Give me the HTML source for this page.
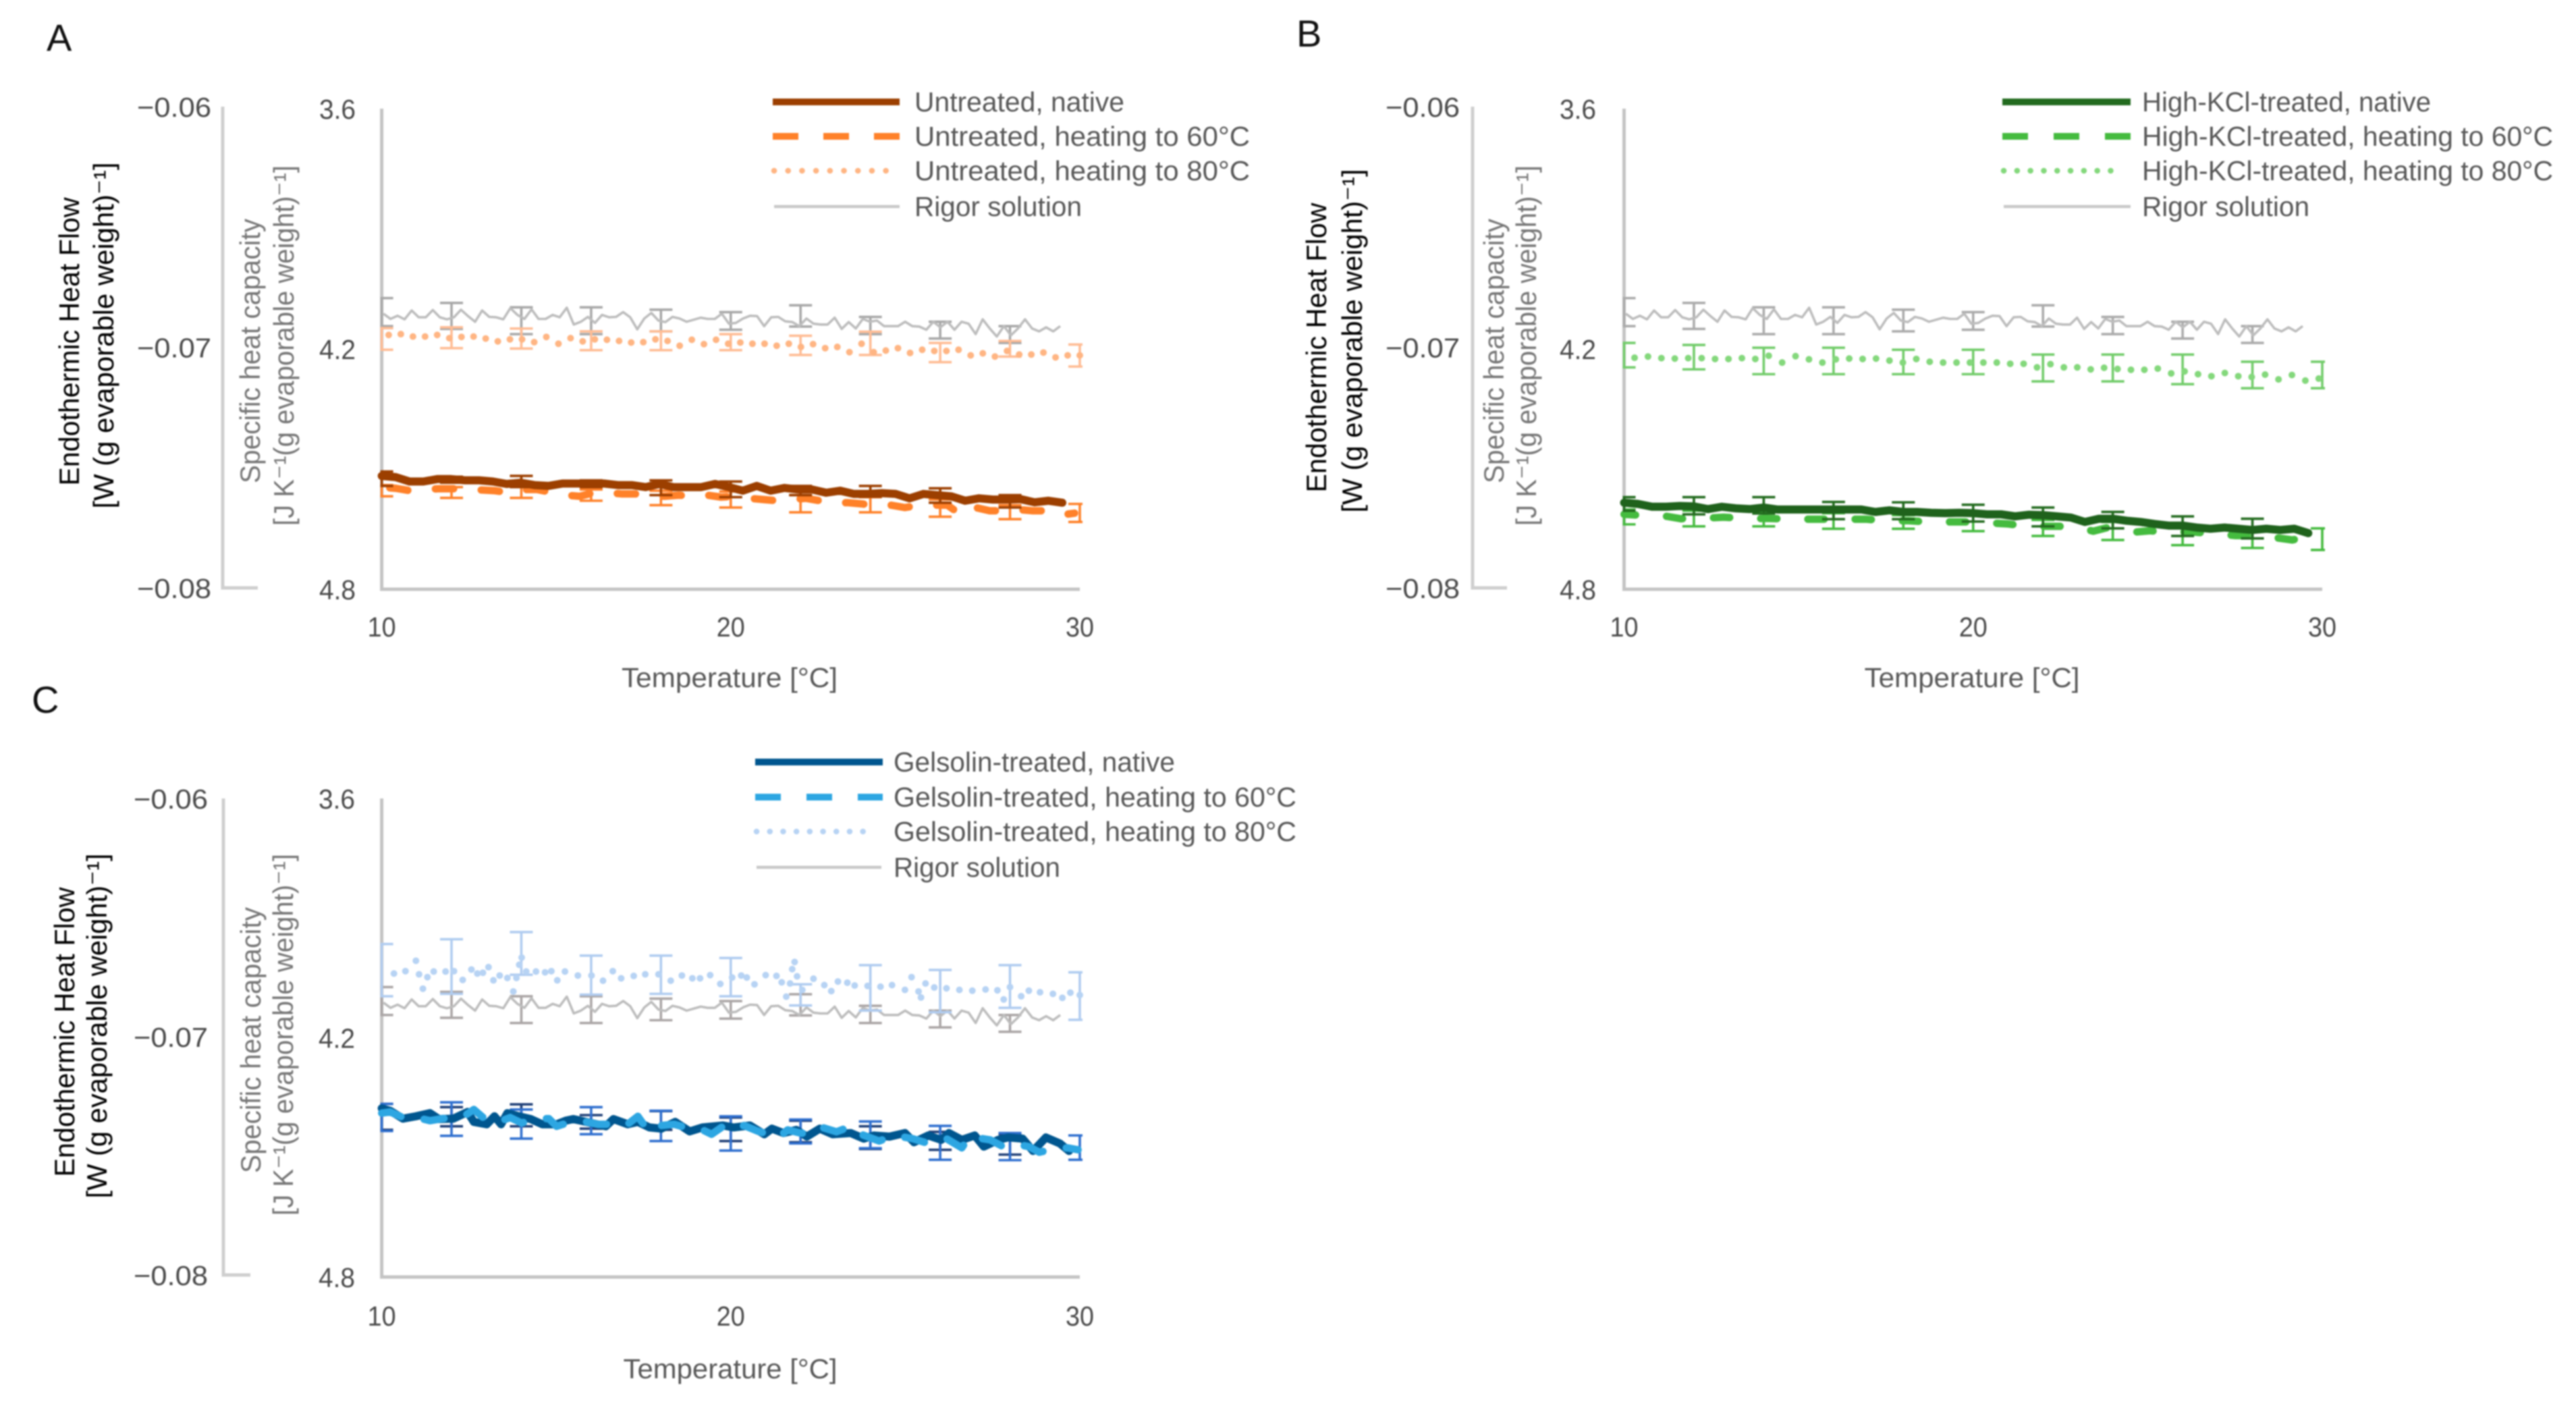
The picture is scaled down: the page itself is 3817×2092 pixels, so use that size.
<!DOCTYPE html>
<html lang="en">
<head>
<meta charset="utf-8">
<title>Endothermic heat flow and specific heat capacity</title>
<style>
html,body{margin:0;padding:0;background:#fff;width:3817px;height:2092px;overflow:hidden}
svg{display:block;filter:blur(1.1px)}
text{font-family:"Liberation Sans","DejaVu Sans",sans-serif}
.tick{font-size:41px;fill:#4a4a4a}
.leg{font-size:41px;fill:#585858}
.xt{font-size:41px;fill:#585858;text-anchor:middle}
.yd{font-size:42px;fill:#000;text-anchor:middle}
.yg{font-size:42px;fill:#777;text-anchor:middle}
.pl{font-size:56px;fill:#111}
</style>
</head>
<body>
<svg id="chart" xmlns="http://www.w3.org/2000/svg" width="3817" height="2092" viewBox="0 0 3817 2092">
<rect x="0" y="0" width="3817" height="2092" fill="#fff"/>

<g id="panel-a">
<text class="pl" x="69" y="75">A</text>
<text class="yd" transform="translate(117 506) rotate(-90)" textLength="427" lengthAdjust="spacingAndGlyphs">Endothermic Heat Flow</text>
<text class="yd" transform="translate(168 497) rotate(-90)" textLength="513" lengthAdjust="spacingAndGlyphs">[W (g evaporable weight)⁻¹]</text>
<text class="yg" transform="translate(385 520) rotate(-90)" textLength="392" lengthAdjust="spacingAndGlyphs">Specific heat capacity</text>
<text class="yg" transform="translate(435 512) rotate(-90)" textLength="534" lengthAdjust="spacingAndGlyphs">[J K⁻¹(g evaporable weight)⁻¹]</text>
<text class="xt" x="1081" y="1018" textLength="320" lengthAdjust="spacingAndGlyphs">Temperature [°C]</text>
<g>
<line x1="1145" y1="151" x2="1333" y2="151" stroke="#9C3F00" stroke-width="10"/>
<text class="leg" x="1355" y="165" textLength="311" lengthAdjust="spacingAndGlyphs">Untreated, native</text>
<line x1="1145" y1="202" x2="1333" y2="202" stroke="#FF8129" stroke-width="10" stroke-dasharray="38 37"/>
<text class="leg" x="1355" y="216" textLength="497" lengthAdjust="spacingAndGlyphs">Untreated, heating to 60°C</text>
<line x1="1147" y1="253" x2="1333" y2="253" stroke="#FFB583" stroke-width="8.5" stroke-linecap="round" stroke-dasharray="0.1 20.6"/>
<text class="leg" x="1355" y="267" textLength="497" lengthAdjust="spacingAndGlyphs">Untreated, heating to 80°C</text>
<line x1="1147" y1="306" x2="1333" y2="306" stroke="#C8C8C8" stroke-width="4.5"/>
<text class="leg" x="1355" y="320" textLength="248" lengthAdjust="spacingAndGlyphs">Rigor solution</text>
</g>
</g>

<g id="panel-b">
<text class="pl" x="1921" y="69">B</text>
<text class="yd" transform="translate(1965 515) rotate(-90)" textLength="429" lengthAdjust="spacingAndGlyphs">Endothermic Heat Flow</text>
<text class="yd" transform="translate(2018 505) rotate(-90)" textLength="509" lengthAdjust="spacingAndGlyphs">[W (g evaporable weight)⁻¹]</text>
<text class="yg" transform="translate(2228 520) rotate(-90)" textLength="392" lengthAdjust="spacingAndGlyphs">Specific heat capacity</text>
<text class="yg" transform="translate(2276 512) rotate(-90)" textLength="534" lengthAdjust="spacingAndGlyphs">[J K⁻¹(g evaporable weight)⁻¹]</text>
<text class="xt" x="2922" y="1018" textLength="319" lengthAdjust="spacingAndGlyphs">Temperature [°C]</text>
<g>
<line x1="2967" y1="151" x2="3157" y2="151" stroke="#236B1F" stroke-width="10"/>
<text class="leg" x="3174" y="165" textLength="428" lengthAdjust="spacingAndGlyphs">High-KCl-treated, native</text>
<line x1="2967" y1="202" x2="3157" y2="202" stroke="#45BB3F" stroke-width="10" stroke-dasharray="38 38"/>
<text class="leg" x="3174" y="216" textLength="609" lengthAdjust="spacingAndGlyphs">High-KCl-treated, heating to 60°C</text>
<line x1="2969" y1="253" x2="3147" y2="253" stroke="#84D87C" stroke-width="8.5" stroke-linecap="round" stroke-dasharray="0.1 19.7"/>
<text class="leg" x="3174" y="267" textLength="609" lengthAdjust="spacingAndGlyphs">High-KCl-treated, heating to 80°C</text>
<line x1="2969" y1="306" x2="3157" y2="306" stroke="#C8C8C8" stroke-width="4.5"/>
<text class="leg" x="3174" y="320" textLength="248" lengthAdjust="spacingAndGlyphs">Rigor solution</text>
</g>
</g>

<g id="panel-c">
<text class="pl" x="47" y="1056">C</text>
<text class="yd" transform="translate(110 1529) rotate(-90)" textLength="429" lengthAdjust="spacingAndGlyphs">Endothermic Heat Flow</text>
<text class="yd" transform="translate(158 1520) rotate(-90)" textLength="511" lengthAdjust="spacingAndGlyphs">[W (g evaporable weight)⁻¹]</text>
<text class="yg" transform="translate(386 1541) rotate(-90)" textLength="394" lengthAdjust="spacingAndGlyphs">Specific heat capacity</text>
<text class="yg" transform="translate(434 1533) rotate(-90)" textLength="536" lengthAdjust="spacingAndGlyphs">[J K⁻¹(g evaporable weight)⁻¹]</text>
<text class="xt" x="1082" y="2042" textLength="317" lengthAdjust="spacingAndGlyphs">Temperature [°C]</text>
<g>
<line x1="1119" y1="1129" x2="1308" y2="1129" stroke="#00568F" stroke-width="10"/>
<text class="leg" x="1324" y="1143" textLength="417" lengthAdjust="spacingAndGlyphs">Gelsolin-treated, native</text>
<line x1="1119" y1="1181" x2="1308" y2="1181" stroke="#2DA6E2" stroke-width="10" stroke-dasharray="38 38"/>
<text class="leg" x="1324" y="1195" textLength="597" lengthAdjust="spacingAndGlyphs">Gelsolin-treated, heating to 60°C</text>
<line x1="1121" y1="1232" x2="1298" y2="1232" stroke="#B7D3F4" stroke-width="8.5" stroke-linecap="round" stroke-dasharray="0.1 19.6"/>
<text class="leg" x="1324" y="1246" textLength="597" lengthAdjust="spacingAndGlyphs">Gelsolin-treated, heating to 80°C</text>
<line x1="1121" y1="1285" x2="1306" y2="1285" stroke="#C8C8C8" stroke-width="4.5"/>
<text class="leg" x="1324" y="1299" textLength="247" lengthAdjust="spacingAndGlyphs">Rigor solution</text>
</g>
</g>
</svg>

<script>
/* ---------- tick labels ---------- */
const temperatureTicks = [10, 20, 30];
const capacityTicks = [3.6, 4.2, 4.8];
const heatFlowTicks = [-0.06, -0.07, -0.08];
const errorBarTemps = [10, 12, 14, 16, 18, 20, 22, 24, 26, 28, 30];

/* ---------- rigor solution (same in all panels) ---------- */
const rigorValues = [4.112,4.125,4.117,4.126,4.104,4.121,4.121,4.103,4.121,4.126,4.121,4.102,4.118,4.132,4.104,4.120,4.121,4.126,4.098,4.115,4.125,4.101,4.125,4.125,4.115,4.121,4.097,4.139,4.132,4.120,4.135,4.115,4.121,4.120,4.108,4.121,4.151,4.124,4.110,4.129,4.133,4.120,4.124,4.132,4.127,4.122,4.125,4.125,4.112,4.137,4.135,4.124,4.117,4.118,4.143,4.121,4.120,4.131,4.133,4.143,4.124,4.137,4.139,4.139,4.122,4.150,4.133,4.149,4.125,4.132,4.129,4.143,4.143,4.143,4.132,4.143,4.144,4.152,4.132,4.146,4.132,4.152,4.132,4.137,4.163,4.126,4.149,4.169,4.143,4.166,4.149,4.126,4.149,4.156,4.146,4.156,4.143];
const rigorLow = [4.073,4.085,4.096,4.096,4.102,4.108,4.091,4.120,4.132,4.143,null];
const rigorHigh = [4.143,4.150,4.163,4.163,4.156,4.152,4.144,4.163,4.174,4.185,null];

/* ---------- panel A: untreated ---------- */
const untreatedNative = [4.517,4.520,4.531,4.531,4.525,4.525,4.528,4.528,4.531,4.537,4.534,4.540,4.542,4.536,4.536,4.536,4.536,4.540,4.540,4.545,4.537,4.545,4.545,4.545,4.537,4.545,4.554,4.542,4.554,4.547,4.551,4.551,4.559,4.554,4.562,4.562,4.560,4.562,4.573,4.562,4.565,4.568,4.579,4.573,4.576,4.576,4.575,4.583,4.579,4.584];
const untreatedNativeLow = [4.506,4.519,4.517,4.528,4.528,4.531,4.542,4.542,4.548,4.565,null];
const untreatedNativeHigh = [4.542,4.534,4.545,4.545,4.565,4.570,4.565,4.569,4.584,4.596,null];
const untreated60 = [4.545,4.548,4.554,4.551,4.549,4.549,4.549,4.552,4.554,4.559,4.551,4.551,4.558,4.565,4.568,4.559,4.559,4.562,4.562,4.565,4.568,4.565,4.568,4.565,4.570,4.568,4.573,4.576,4.579,4.576,4.573,4.579,4.584,4.584,4.587,4.593,4.590,4.596,4.590,4.590,4.590,4.615,4.596,4.604,4.604,4.601,4.604,4.604,4.615,4.610];
const untreated60Low = [4.540,4.545,4.545,4.551,4.554,4.556,4.565,4.570,4.576,4.590,4.587];
const untreated60High = [4.568,4.572,4.572,4.579,4.590,4.596,4.608,4.608,4.619,4.625,4.632];
const untreated80 = [4.165,4.163,4.169,4.169,4.165,4.173,4.170,4.169,4.174,4.181,4.176,4.176,4.183,4.170,4.187,4.173,4.181,4.176,4.177,4.180,4.184,4.183,4.176,4.180,4.192,4.177,4.188,4.177,4.187,4.184,4.187,4.187,4.192,4.187,4.195,4.188,4.198,4.195,4.208,4.187,4.208,4.204,4.198,4.210,4.202,4.205,4.205,4.202,4.216,4.211,4.219,4.205,4.214,4.214,4.209,4.221,4.216,4.216];
const untreated80Low = [4.148,4.146,4.149,4.156,4.156,4.163,4.167,4.157,4.185,4.180,4.189];
const untreated80High = [4.202,4.198,4.199,4.203,4.203,4.203,4.215,4.215,4.233,4.219,4.244];

/* ---------- panel B: high-KCl ---------- */
const kclNative = [4.584,4.587,4.594,4.594,4.592,4.593,4.600,4.594,4.598,4.600,4.596,4.601,4.601,4.601,4.601,4.601,4.601,4.601,4.607,4.603,4.607,4.607,4.609,4.610,4.609,4.610,4.613,4.613,4.618,4.614,4.615,4.618,4.621,4.632,4.624,4.624,4.629,4.632,4.637,4.641,4.641,4.646,4.649,4.646,4.649,4.652,4.649,4.652,4.649,4.660];
const kclNativeLow = [4.570,4.570,4.570,4.582,4.583,4.589,4.596,4.607,4.618,4.624,null];
const kclNativeHigh = [4.604,4.613,4.611,4.625,4.625,4.631,4.643,4.648,4.667,4.673,null];
const kcl60 = [4.613,4.615,4.618,4.618,4.624,4.621,4.622,4.620,4.622,4.624,4.623,4.624,4.625,4.625,4.625,4.625,4.625,4.625,4.628,4.629,4.629,4.631,4.632,4.632,4.632,4.633,4.635,4.637,4.641,4.643,4.643,4.643,4.646,4.655,4.646,4.655,4.657,4.654,4.657,4.657,4.657,4.660,4.663,4.666,4.666,4.669,4.672,4.677,4.669];
const kcl60Low = [4.601,4.604,4.607,4.610,4.615,4.615,4.627,4.632,4.643,4.652,4.648];
const kcl60High = [4.638,4.643,4.643,4.649,4.649,4.655,4.667,4.677,4.690,4.697,4.702];
const kcl80 = [4.222,4.219,4.223,4.224,4.223,4.223,4.225,4.225,4.223,4.225,4.217,4.234,4.218,4.226,4.234,4.226,4.224,4.225,4.224,4.229,4.234,4.225,4.232,4.234,4.234,4.234,4.234,4.234,4.237,4.237,4.246,4.238,4.246,4.246,4.251,4.247,4.250,4.252,4.252,4.249,4.261,4.256,4.263,4.268,4.260,4.268,4.270,4.264,4.276,4.265,4.279,4.274];
const kcl80Low = [4.185,4.190,4.197,4.197,4.202,4.202,4.214,4.214,4.214,4.232,4.232];
const kcl80High = [4.246,4.251,4.263,4.263,4.263,4.263,4.281,4.281,4.288,4.298,4.298];

/* ---------- panel C: gelsolin ---------- */
const gelsolinNativeTemps = [10.0,10.24,10.61,10.98,11.38,11.64,12.05,12.46,12.64,13.01,13.23,13.42,13.60,13.94,14.27,14.60,15.01,15.27,15.49,15.86,16.42,16.64,17.05,17.34,17.67,18.01,18.41,18.82,19.19,19.78,20.08,20.55,20.96,21.18,21.51,21.88,22.18,22.55,22.92,23.44,23.81,24.10,24.55,24.99,25.25,25.66,26.03,26.25,26.62,26.99,27.25,27.66,27.95,28.36,28.66,29.03,29.43,29.69];
const gelsolinNative = [4.377,4.383,4.403,4.397,4.389,4.404,4.403,4.386,4.411,4.417,4.397,4.417,4.389,4.397,4.404,4.417,4.417,4.408,4.404,4.411,4.422,4.404,4.417,4.411,4.425,4.428,4.411,4.435,4.425,4.420,4.425,4.420,4.442,4.428,4.439,4.431,4.448,4.428,4.442,4.439,4.453,4.445,4.448,4.439,4.462,4.445,4.456,4.439,4.456,4.445,4.473,4.456,4.450,4.453,4.484,4.450,4.465,4.484];
const gelsolinNativeLow = [4.366,4.374,4.367,4.394,4.384,4.400,4.408,4.422,4.436,4.442,null];
const gelsolinNativeHigh = [4.431,4.422,4.422,4.428,4.431,4.459,4.462,4.479,4.481,4.493,null];
const gelsolin60Temps = [10.0,10.24,10.61,11.01,11.38,11.72,12.09,12.35,12.64,12.97,13.35,13.68,14.01,14.38,14.79,15.01,15.42,15.86,16.19,16.53,16.97,17.34,17.64,18.01,18.38,18.82,19.12,19.45,19.78,20.08,20.38,20.77,21.37,21.63,21.99,22.33,22.62,23.03,23.44,23.73,24.25,24.70,25.21,25.66,26.18,26.62,26.84,27.43,27.80,28.17,28.54,28.84,29.25,29.65,29.95];
const gelsolin60 = [4.389,4.386,4.400,4.400,4.408,4.403,4.400,4.397,4.380,4.405,4.411,4.400,4.414,4.403,4.403,4.422,4.411,4.411,4.417,4.417,4.422,4.397,4.434,4.420,4.417,4.428,4.428,4.442,4.422,4.431,4.420,4.434,4.450,4.431,4.439,4.442,4.425,4.436,4.422,4.442,4.459,4.445,4.453,4.465,4.453,4.476,4.448,4.456,4.473,4.467,4.473,4.487,4.479,4.476,4.481];
const gelsolin60Low = [4.366,4.362,4.380,4.374,4.383,4.397,4.405,4.410,4.421,4.439,4.445];
const gelsolin60High = [4.434,4.446,4.453,4.442,4.459,4.483,4.465,4.477,4.506,4.507,4.506];
const gelsolin80Temps = [10.35,10.68,10.98,11.07,11.18,11.31,11.49,11.83,12.07,12.32,12.57,12.74,12.90,13.06,13.20,13.38,13.60,13.77,13.86,13.94,14.01,14.14,14.42,14.68,14.86,15.03,15.25,15.62,16.01,16.34,16.62,16.86,17.22,17.55,17.93,18.28,18.60,18.90,19.12,19.41,19.70,20.04,20.30,20.46,20.68,21.0,21.31,21.46,21.70,21.76,21.83,21.90,22.05,21.59,22.37,22.68,22.88,23.07,23.34,23.55,23.92,24.29,24.62,24.99,25.18,25.38,25.45,25.58,25.83,26.18,26.55,26.92,27.30,27.64,27.82,28.0,28.32,28.54,28.86,29.23,29.5,29.73,30.0];
const gelsolin80 = [4.039,4.033,4.007,4.041,4.077,4.048,4.034,4.034,4.033,4.055,4.029,4.039,4.037,4.023,4.056,4.044,4.050,4.084,4.050,4.017,3.999,4.034,4.034,4.036,4.033,4.056,4.034,4.044,4.044,4.057,4.033,4.051,4.045,4.041,4.041,4.057,4.044,4.051,4.051,4.043,4.065,4.049,4.044,4.049,4.066,4.043,4.045,4.061,4.064,4.028,4.010,4.046,4.080,4.097,4.052,4.068,4.083,4.059,4.062,4.069,4.070,4.072,4.068,4.080,4.048,4.084,4.099,4.064,4.074,4.076,4.080,4.082,4.079,4.081,4.104,4.073,4.096,4.082,4.086,4.090,4.100,4.087,4.093];
const gelsolin80Low = [3.965,3.953,3.935,3.994,3.994,4.000,4.066,4.018,4.030,4.018,4.036];
const gelsolin80High = [4.096,4.090,4.042,4.092,4.090,4.096,4.119,4.132,4.136,4.125,4.155];

/* ---------- drawing ---------- */
const NS = 'http://www.w3.org/2000/svg';
function make(tag, attrs, parent) {
  const el = document.createElementNS(NS, tag);
  for (const k in attrs) el.setAttribute(k, attrs[k]);
  parent.appendChild(el);
  return el;
}
function evenTemps(values, first, last) {
  return values.map(function (_, i) { return first + (last - first) * i / (values.length - 1); });
}
function makeAxes(p) {
  p.x = function (t) { return p.left + (t - 10) / 20 * (p.right - p.left); };
  p.y = function (v) { return p.top + (v - 3.6) / 1.2 * (p.bottom - p.top); };
  p.yOuter = function (h) { return p.outerTop + (-0.06 - h) / 0.02 * (p.outerBottom - p.outerTop); };
  const g = document.getElementById(p.id);
  p.g = g;

  const outerAxis = make('path', { d: 'M' + p.outerX + ' ' + p.outerTop + 'V' + p.outerBottom + 'H' + p.outerFoot, fill: 'none', stroke: '#CFCFCF', 'stroke-width': 5 }, g);
  
  

  const innerAxis = make('path', { d: 'M' + p.left + ' ' + p.top + 'V' + p.bottom + 'H' + p.right, fill: 'none', stroke: '#C4C4C4', 'stroke-width': 5 }, g);
  
  

  temperatureTicks.forEach(function (t) {
    const label = make('text', { x: p.x(t), y: p.xLabelY, class: 'tick', 'text-anchor': 'middle', textLength: 42, lengthAdjust: 'spacingAndGlyphs' }, g);
    label.textContent = String(t);
    
    
  });
  capacityTicks.forEach(function (v) {
    const label = make('text', { x: p.innerLabelX, y: p.y(v) + 15, class: 'tick', 'text-anchor': 'end', textLength: 54, lengthAdjust: 'spacingAndGlyphs' }, g);
    label.textContent = v.toFixed(1);
    
    
  });
  heatFlowTicks.forEach(function (h) {
    const label = make('text', { x: p.outerLabelX, y: p.yOuter(h) + 15, class: 'tick', 'text-anchor': 'end', textLength: 110, lengthAdjust: 'spacingAndGlyphs' }, g);
    label.textContent = '\u2212' + Math.abs(h).toFixed(2);
    
    
  });

  const clip = make('clipPath', { id: p.id + '-clip' }, g);
  make('rect', { x: p.left - 2, y: p.top - 30, width: p.right - p.left + 6, height: p.bottom - p.top + 60 }, clip);
}
function drawErrorBars(p, low, high, colour, name) {
  const g = make('g', { stroke: colour, 'stroke-width': 3.6, fill: 'none', 'clip-path': 'url(#' + p.id + '-clip)' }, p.g);
  
  
  errorBarTemps.forEach(function (t, i) {
    if (low[i] === null) return;
    const x = p.x(t), y1 = p.y(low[i]), y2 = p.y(high[i]);
    const bar = make('path', { d: 'M' + (x - 17) + ' ' + y1 + 'H' + (x + 17) + 'M' + x + ' ' + y1 + 'V' + y2 + 'M' + (x - 17) + ' ' + y2 + 'H' + (x + 17) }, g);
    
    
  });
}
function linePoints(p, temps, values) {
  return values.map(function (v, i) { return p.x(temps[i]).toFixed(1) + ',' + p.y(v).toFixed(1); }).join(' ');
}
function drawLine(p, temps, values, style, name) {
  const attrs = { points: linePoints(p, temps, values), fill: 'none', 'stroke-linejoin': 'round' };
  for (const k in style) attrs[k] = style[k];
  const line = make('polyline', attrs, p.g);
  
  
}
function drawDots(p, temps, values, colour, name) {
  const g = make('g', { fill: colour }, p.g);
  
  
  values.forEach(function (v, i) {
    const dot = make('circle', { cx: p.x(temps[i]), cy: p.y(v), r: 5 }, g);
    
    
  });
}

const panelA = { id: 'panel-a', left: 565.6, right: 1600, top: 161, bottom: 873, outerX: 330, outerFoot: 382, outerTop: 158, outerBottom: 871, outerLabelX: 313, innerLabelX: 527, xLabelY: 943 };
const panelB = { id: 'panel-b', left: 2406.5, right: 3441, top: 161, bottom: 873, outerX: 2182, outerFoot: 2233, outerTop: 158, outerBottom: 871, outerLabelX: 2163, innerLabelX: 2365, xLabelY: 943 };
const panelC = { id: 'panel-c', left: 565.6, right: 1600, top: 1183, bottom: 1892, outerX: 331, outerFoot: 371, outerTop: 1183, outerBottom: 1889, outerLabelX: 308, innerLabelX: 526, xLabelY: 1964 };

[panelA, panelB, panelC].forEach(makeAxes);

/* Panel A */
drawErrorBars(panelA, rigorLow, rigorHigh, '#A8A8A8', 'rigor-error-bars');
drawLine(panelA, evenTemps(rigorValues, 10.05, 29.44), rigorValues, { stroke: '#BDBDBD', 'stroke-width': 3.6 }, 'rigor-line');
drawErrorBars(panelA, untreated80Low, untreated80High, '#FFBC94', 'heating-80-error-bars');
drawDots(panelA, evenTemps(untreated80, 10.2, 30), untreated80, '#FFB583', 'heating-80-points');
drawErrorBars(panelA, untreated60Low, untreated60High, '#FF8129', 'heating-60-error-bars');
drawLine(panelA, evenTemps(untreated60, 10, 29.85), untreated60, { stroke: '#FF8129', 'stroke-width': 11, 'stroke-linecap': 'round', 'stroke-dasharray': '27 41', 'stroke-dashoffset': -12 }, 'heating-60-line');
drawErrorBars(panelA, untreatedNativeLow, untreatedNativeHigh, '#9C3F00', 'native-error-bars');
drawLine(panelA, evenTemps(untreatedNative, 10, 29.5), untreatedNative, { stroke: '#9C3F00', 'stroke-width': 12, 'stroke-linecap': 'round' }, 'native-line');

/* Panel B */
drawErrorBars(panelB, rigorLow, rigorHigh, '#ABABAB', 'rigor-error-bars');
drawLine(panelB, evenTemps(rigorValues, 10.05, 29.44), rigorValues, { stroke: '#BDBDBD', 'stroke-width': 3.6 }, 'rigor-line');
drawErrorBars(panelB, kcl80Low, kcl80High, '#72CC6A', 'heating-80-error-bars');
drawDots(panelB, evenTemps(kcl80, 10.3, 29.9), kcl80, '#84D87C', 'heating-80-points');
drawErrorBars(panelB, kcl60Low, kcl60High, '#45BB3F', 'heating-60-error-bars');
drawLine(panelB, evenTemps(kcl60, 10, 29.55), kcl60, { stroke: '#45BB3F', 'stroke-width': 11, 'stroke-linecap': 'round', 'stroke-dasharray': '24 46', 'stroke-dashoffset': 7 }, 'heating-60-line');
drawErrorBars(panelB, kclNativeLow, kclNativeHigh, '#236B1F', 'native-error-bars');
drawLine(panelB, evenTemps(kclNative, 10, 29.6), kclNative, { stroke: '#1F621C', 'stroke-width': 12, 'stroke-linecap': 'round' }, 'native-line');

/* Panel C */
drawErrorBars(panelC, rigorLow, rigorHigh, '#ABA6A6', 'rigor-error-bars');
drawLine(panelC, evenTemps(rigorValues, 10.05, 29.44), rigorValues, { stroke: '#BDBDBD', 'stroke-width': 3.6 }, 'rigor-line');
drawErrorBars(panelC, gelsolin80Low, gelsolin80High, '#B0CCF0', 'heating-80-error-bars');
drawDots(panelC, gelsolin80Temps, gelsolin80, '#B7D3F4', 'heating-80-points');
drawErrorBars(panelC, gelsolinNativeLow, gelsolinNativeHigh, '#1F3F77', 'native-error-bars');
drawErrorBars(panelC, gelsolin60Low, gelsolin60High, '#2F6FCF', 'heating-60-error-bars');
drawLine(panelC, gelsolinNativeTemps, gelsolinNative, { stroke: '#00568F', 'stroke-width': 12, 'stroke-linecap': 'round' }, 'native-line');
drawLine(panelC, gelsolin60Temps, gelsolin60, { stroke: '#2DA6E2', 'stroke-width': 11, 'stroke-linecap': 'round', 'stroke-dasharray': '30 35' }, 'heating-60-line');
</script>
</body>
</html>
